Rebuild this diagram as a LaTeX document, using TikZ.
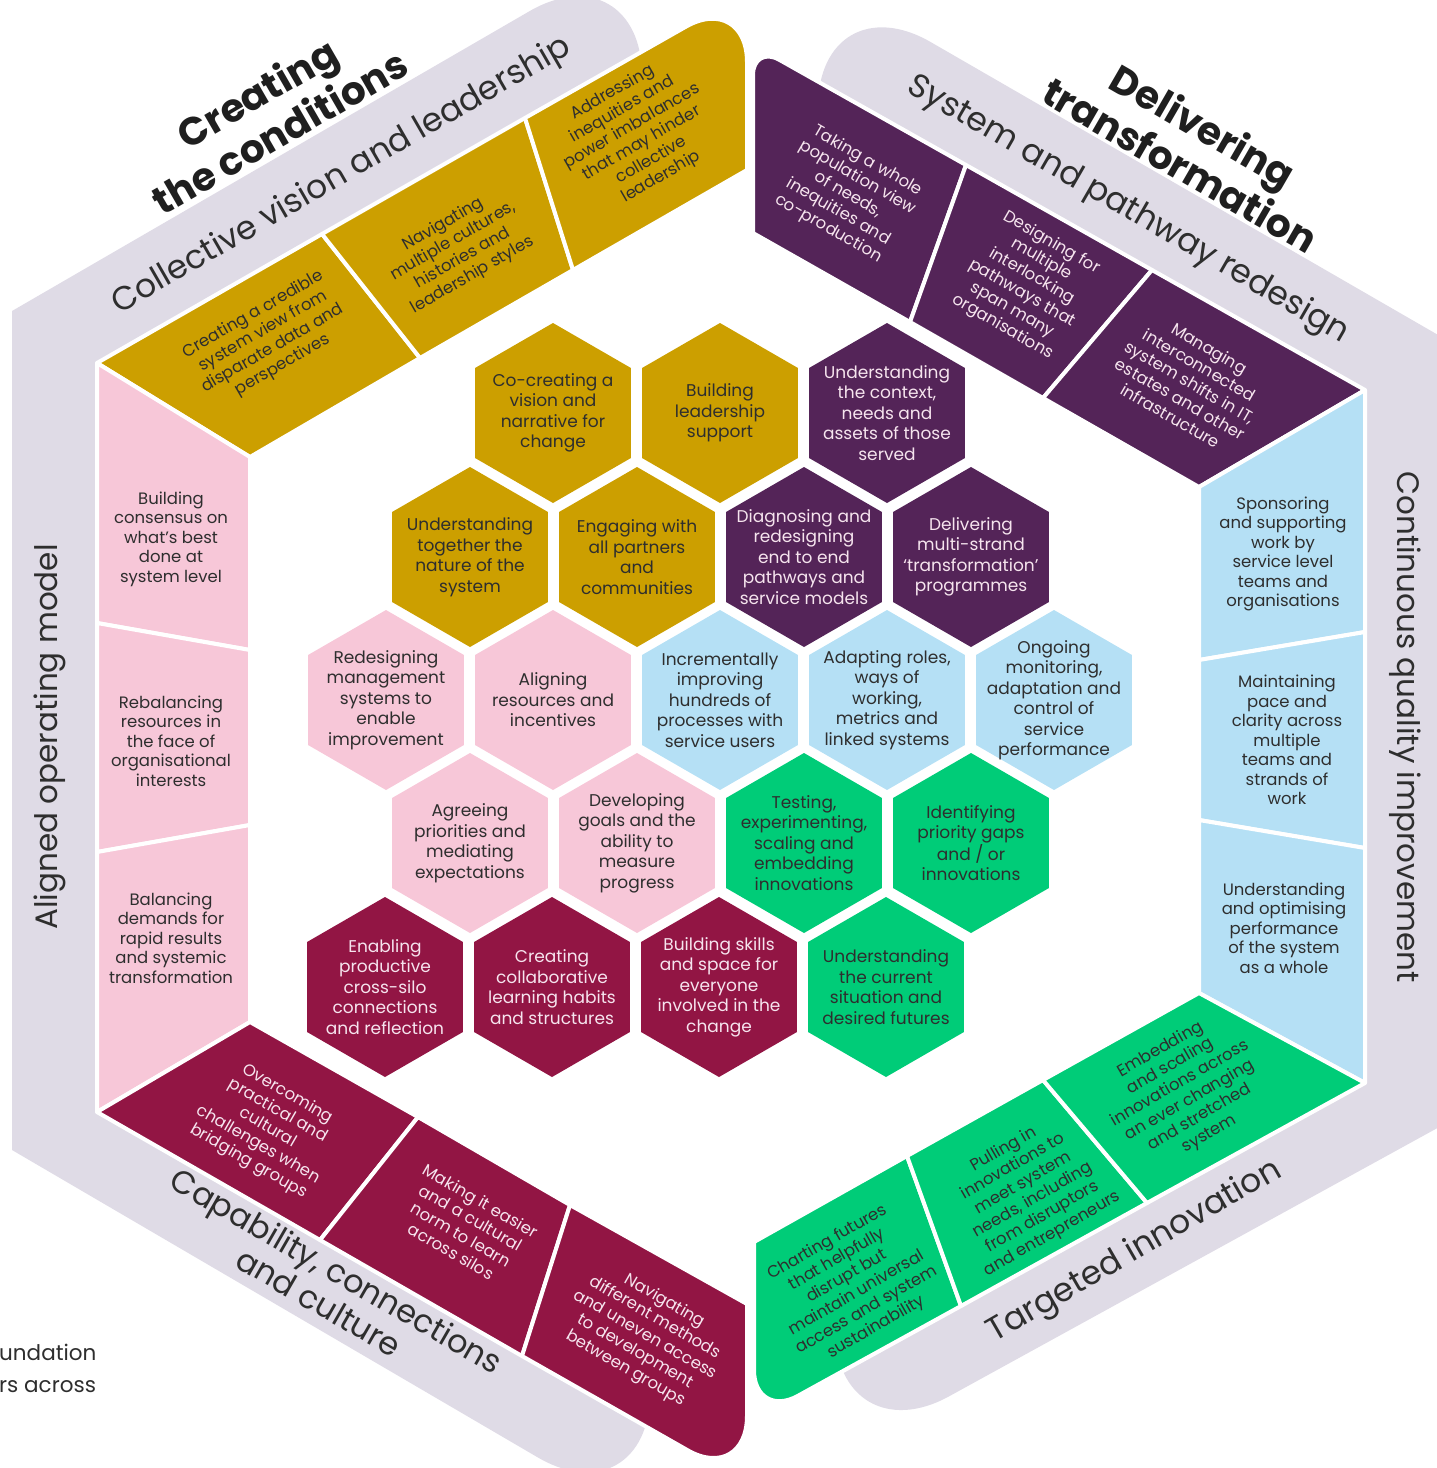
\documentclass[tikz,border=0pt]{standalone}
\usepackage{fontspec}
\setmainfont{Poppins}
\usetikzlibrary{calc}
\definecolor{cgold}{HTML}{CC9F00}
\definecolor{cpurple}{HTML}{542458}
\definecolor{ccrimson}{HTML}{921544}
\definecolor{cgreen}{HTML}{00CC78}
\definecolor{cblue}{HTML}{B5E0F5}
\definecolor{cpink}{HTML}{F7C7D8}
\definecolor{clav}{HTML}{DFDBE6}
\definecolor{tdark}{HTML}{2E2E2E}
\definecolor{tlight}{HTML}{F6E4EE}
\newcommand{\hexcell}[6]{%
  \fill[#3,shift={(#1,#2)}] (0,-90) -- (77.94,-45) -- (77.94,45) -- (0,90) -- (-77.94,45) -- (-77.94,-45) -- cycle;
  \node[hextext,text=#4] (#5) at (#1,#2) {#6};}
\begin{document}
\begin{tikzpicture}[x=1pt,y=-1pt,
  hextext/.style={align=center,inner sep=0pt,font=\fontsize{17}{20.5}\selectfont},
  bandtext/.style={align=center,inner sep=0pt,font=\fontsize{16.5}{19.5}\selectfont},
  seg/.style={draw=white,line width=4pt,line join=round},
  bandtitle/.style={font=\fontsize{33}{37}\selectfont,text=tdark,inner sep=0pt,align=center},
  vtitle/.style={font=\fontsize{31}{35}\selectfont,text=tdark,inner sep=0pt},
  bigtitle/.style={font=\bfseries\fontsize{39}{45}\selectfont,text=black!88,align=center,inner sep=0pt}]
\useasboundingbox (0,0) rectangle (1437,1468);
\clip (0,0) rectangle (1437,1468);

% ---------- lavender outer bands ----------
\coordinate (LT) at (642,-54);
\coordinate (LB) at (650,1523);
\fill[clav] (642,150) -- ($(LT)!130pt!(642,150)$) .. controls ($(LT)!60pt!(642,150)$) and ($(LT)!60pt!(12,311)$) .. ($(LT)!130pt!(12,311)$)
  -- (12,311) -- (12,1150) -- ($(LB)!130pt!(12,1150)$) .. controls ($(LB)!60pt!(12,1150)$) and ($(LB)!60pt!(650,1320)$) .. ($(LB)!130pt!(650,1320)$)
  -- (650,1320) -- (200,1040) -- (200,420) -- cycle;
\coordinate (RT) at (818,-23);
\coordinate (RB) at (835,1459);
\fill[clav] (818,200) -- ($(RT)!130pt!(818,200)$) .. controls ($(RT)!60pt!(818,200)$) and ($(RT)!60pt!(1452,343)$) .. ($(RT)!130pt!(1452,343)$)
  -- (1452,343) -- (1452,1120) -- ($(RB)!130pt!(1452,1120)$) .. controls ($(RB)!60pt!(1452,1120)$) and ($(RB)!60pt!(835,1300)$) .. ($(RB)!130pt!(835,1300)$)
  -- (835,1300) -- (1280,1020) -- (1280,460) -- cycle;

% ---------- gold band ----------
\coordinate (gV) at (747,-8);
\path[seg,fill=cgold] (97,363) -- (322,234) -- (420,358) -- (250,457) -- cycle;
\path[seg,fill=cgold] (322,234) -- (525,118) -- (573,270) -- (420,358) -- cycle;
\path[seg,fill=cgold] (525,118) -- ($(gV)!70pt!(525,118)$) .. controls ($(gV)!32pt!(525,118)$) and ($(gV)!32pt!(747,170)$) .. ($(gV)!70pt!(747,170)$) -- (747,170) -- (573,270) -- cycle;
% ---------- pink band ----------
\path[seg,fill=cpink] (97,363) -- (250,457) -- (250,650) -- (97,623) -- cycle;
\path[seg,fill=cpink] (97,623) -- (250,650) -- (250,825) -- (97,852) -- cycle;
\path[seg,fill=cpink] (97,852) -- (250,825) -- (250,1022) -- (97,1112) -- cycle;
% ---------- crimson band ----------
\coordinate (cV) at (747,1484);
\path[seg,fill=ccrimson] (97,1112) -- (250,1022) -- (418,1117) -- (320,1240) -- cycle;
\path[seg,fill=ccrimson] (418,1117) -- (570,1205) -- (522,1356) -- (320,1240) -- cycle;
\path[seg,fill=ccrimson] (570,1205) -- (747,1304) -- ($(cV)!68pt!(747,1304)$) .. controls ($(cV)!31pt!(747,1304)$) and ($(cV)!31pt!(522,1356)$) .. ($(cV)!68pt!(522,1356)$) -- (522,1356) -- cycle;
% ---------- purple band ----------
\coordinate (pV) at (753,45);
\path[seg,fill=cpurple] ($(pV)!30pt!(753,233)$) .. controls ($(pV)!14pt!(753,233)$) and ($(pV)!14pt!(966,165)$) .. ($(pV)!30pt!(966,165)$) -- (966,165) -- (910,322) -- (753,233) -- cycle;
\path[seg,fill=cpurple] (966,165) -- (1152,270) -- (1043,398) -- (910,322) -- cycle;
\path[seg,fill=cpurple] (1152,270) -- (1365,390) -- (1199,487) -- (1043,398) -- cycle;
% ---------- blue band ----------
\path[seg,fill=cblue] (1365,390) -- (1365,632) -- (1199,660) -- (1199,487) -- cycle;
\path[seg,fill=cblue] (1365,632) -- (1365,848) -- (1199,820) -- (1199,660) -- cycle;
\path[seg,fill=cblue] (1365,848) -- (1365,1083) -- (1199,993) -- (1199,820) -- cycle;
% ---------- green band ----------
\coordinate (nV) at (754,1420);
\path[seg,fill=cgreen] (754,1242) -- (907,1156) -- (961,1306) -- ($(nV)!50pt!(961,1306)$) .. controls ($(nV)!23pt!(961,1306)$) and ($(nV)!23pt!(754,1242)$) .. ($(nV)!50pt!(754,1242)$) -- cycle;
\path[seg,fill=cgreen] (907,1156) -- (1043,1080) -- (1147,1203) -- (961,1306) -- cycle;
\path[seg,fill=cgreen] (1043,1080) -- (1199,993) -- (1365,1083) -- (1147,1203) -- cycle;

% ---------- band titles ----------
\node[bigtitle,rotate=30] (t1) at (268,112) {Creating\\the conditions};
\node[bigtitle,rotate=-30] (t2) at (1192,145) {Delivering\\transformation};
\node[bandtitle,rotate=30] (b1) at (342,176) {Collective vision and leadership};
\node[bandtitle,rotate=-30] (b2) at (1128,210) {System and pathway redesign};
\node[vtitle,rotate=-90] (b3) at (1405,727) {Continuous quality improvement};
\node[bandtitle,rotate=30] (b4) at (1135,1252) {Targeted innovation};
\node[bandtitle,rotate=-30,font=\fontsize{32}{36}\selectfont] (b5) at (328,1286) {Capability, connections\\and culture};
\node[vtitle,rotate=90] (b6) at (50,737) {Aligned operating model};

% ---------- segment texts ----------
\node[bandtext,text=tdark,rotate=30] (g1) at (268,340) {Creating a credible\\system view from\\disparate data and\\perspectives};
\node[bandtext,text=tdark,rotate=30] (g2) at (458,250) {Navigating\\multiple cultures,\\histories and\\leadership styles};
\node[bandtext,text=tdark,rotate=30] (g3) at (637,135) {Addressing\\inequities and\\power imbalances\\that may hinder\\collective\\leadership};
\node[bandtext,text=tlight,rotate=-30] (p1) at (848,195) {Taking a whole\\population view\\of needs,\\inequities and\\co-production};
\node[bandtext,text=tlight,rotate=-30] (p2) at (1027,285) {Designing for\\multiple\\interlocking\\pathways that\\span many\\organisations};
\node[bandtext,text=tlight,rotate=-30] (p3) at (1190,382) {Managing\\interconnected\\system shifts in IT,\\estates and other\\infrastructure};
\node[bandtext,text=tdark] (l1) at (1283,554) {Sponsoring\\and supporting\\work by\\service level\\teams and\\organisations};
\node[bandtext,text=tdark] (l2) at (1287,740) {Maintaining\\pace and\\clarity across\\multiple\\teams and\\strands of\\work};
\node[bandtext,text=tdark] (l3) at (1284,928) {Understanding\\and optimising\\performance\\of the system\\as a whole};
\node[bandtext,text=tdark,rotate=30] (n1) at (852,1285) {Charting futures\\that helpfully\\disrupt but\\maintain universal\\access and system\\sustainability};
\node[bandtext,text=tdark,rotate=30] (n2) at (1028,1192) {Pulling in\\innovations to\\meet system\\needs, including\\from disruptors\\and entrepreneurs};
\node[bandtext,text=tdark,rotate=30] (n3) at (1185,1092) {Embedding\\and scaling\\innovations across\\an ever changing\\and stretched\\system};
\node[bandtext,text=tlight,rotate=-30] (c1) at (268,1128) {Overcoming\\practical and\\cultural\\challenges when\\bridging groups};
\node[bandtext,text=tlight,rotate=-30] (c2) at (466,1226) {Making it easier\\and a cultural\\norm to learn\\across silos};
\node[bandtext,text=tlight,rotate=-30] (c3) at (645,1335) {Navigating\\different methods\\and uneven access\\to development\\between groups};
\node[bandtext,text=tdark] (k1) at (171,539) {Building\\consensus on\\what's best\\done at\\system level};
\node[bandtext,text=tdark] (k2) at (171,741) {Rebalancing\\resources in\\the face of\\organisational\\interests};
\node[bandtext,text=tdark] (k3) at (171,938) {Balancing\\demands for\\rapid results\\and systemic\\transformation};

% ---------- honeycomb ----------
\hexcell{553}{413}{cgold}{tdark}{h01}{Co-creating a\\vision and\\narrative for\\change}
\hexcell{720}{413}{cgold}{tdark}{h02}{Building\\leadership\\support}
\hexcell{887}{413}{cpurple}{tlight}{h03}{Understanding\\the context,\\needs and\\assets of those\\served}
\hexcell{470}{557}{cgold}{tdark}{h04}{Understanding\\together the\\nature of the\\system}
\hexcell{637}{557}{cgold}{tdark}{h05}{Engaging with\\all partners\\and\\communities}
\hexcell{804}{557}{cpurple}{tlight}{h06}{Diagnosing and\\redesigning\\end to end\\pathways and\\service models}
\hexcell{971}{557}{cpurple}{tlight}{h07}{Delivering\\multi-strand\\‘transformation’\\programmes}
\hexcell{386}{700}{cpink}{tdark}{h08}{Redesigning\\management\\systems to\\enable\\improvement}
\hexcell{553}{700}{cpink}{tdark}{h09}{Aligning\\resources and\\incentives}
\hexcell{720}{700}{cblue}{tdark}{h10}{Incrementally\\improving\\hundreds of\\processes with\\service users}
\hexcell{887}{700}{cblue}{tdark}{h11}{Adapting roles,\\ways of\\working,\\metrics and\\linked systems}
\hexcell{1054}{700}{cblue}{tdark}{h12}{Ongoing\\monitoring,\\adaptation and\\control of\\service\\performance}
\hexcell{470}{843}{cpink}{tdark}{h13}{Agreeing\\priorities and\\mediating\\expectations}
\hexcell{637}{843}{cpink}{tdark}{h14}{Developing\\goals and the\\ability to\\measure\\progress}
\hexcell{804}{843}{cgreen}{tdark}{h15}{Testing,\\experimenting,\\scaling and\\embedding\\innovations}
\hexcell{971}{843}{cgreen}{tdark}{h16}{Identifying\\priority gaps\\and / or\\innovations}
\hexcell{385}{987}{ccrimson}{tlight}{h17}{Enabling\\productive\\cross-silo\\connections\\and reflection}
\hexcell{552}{987}{ccrimson}{tlight}{h18}{Creating\\collaborative\\learning habits\\and structures}
\hexcell{719}{987}{ccrimson}{tlight}{h19}{Building skills\\and space for\\everyone\\involved in the\\change}
\hexcell{886}{987}{cgreen}{tdark}{h20}{Understanding\\the current\\situation and\\desired futures}

% ---------- cropped side text ----------
\node[anchor=west,align=left,inner sep=0pt,text=tdark,font=\fontsize{21.5}{32}\selectfont] (side) at (-1,1368) {undation\\rs across};
\end{tikzpicture}
\end{document}
